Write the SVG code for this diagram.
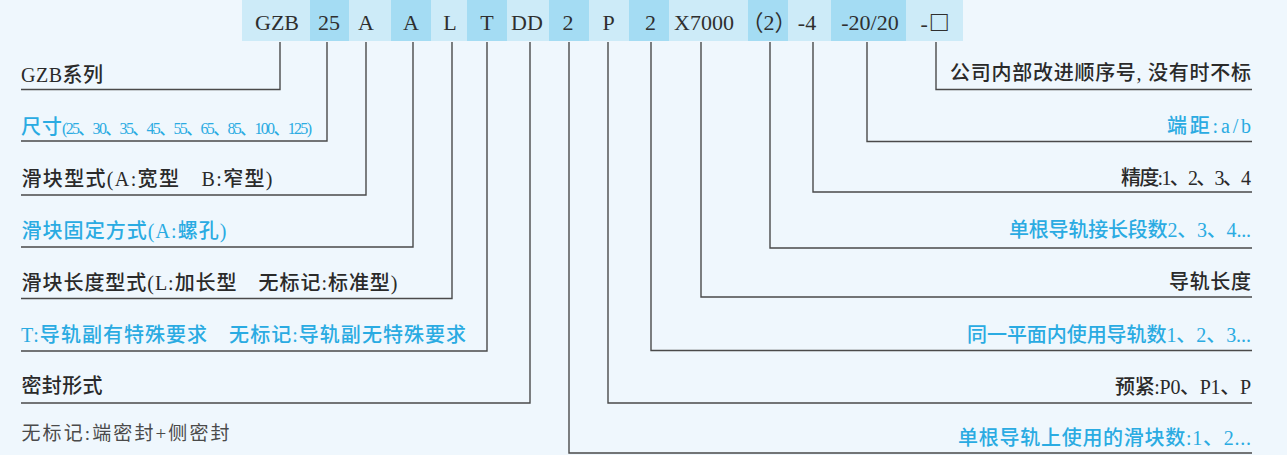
<svg xmlns="http://www.w3.org/2000/svg" width="1287" height="455" viewBox="0 0 1287 455">
<style>
.bg{fill:#eff7fd}
.lc{fill:#cdebf8}
.dc{fill:#a4dcf3}
.code{font-family:"Liberation Serif","Noto Sans CJK SC",serif;font-size:22px;fill:#2f2f2f;text-anchor:middle}
.lb{font-family:"Liberation Serif","Noto Sans CJK SC",serif;font-size:20px;font-weight:500;fill:#2a2a2a}
.bl{font-family:"Liberation Serif","Noto Sans CJK SC",serif;font-size:20px;font-weight:500;fill:#2aabe2}
.sm{font-size:16px}
.note{font-family:"Liberation Serif","Noto Sans CJK SC",serif;font-size:19px;fill:#4a4a4a}
.cn{fill:none;stroke:#4a4a4a;stroke-width:1.4}
</style>
<rect class="bg" x="0" y="0" width="1287" height="455"/>
<g id="code-bar">
<g id="c-gzb"><rect class="lc" x="242" y="0" width="68" height="41"/><text class="code" x="277" y="30">GZB</text></g>
<g id="c-25"><rect class="dc" x="310" y="0" width="39" height="41"/><text class="code" x="329" y="30">25</text></g>
<g id="c-a1"><rect class="lc" x="349" y="0" width="42" height="41"/><text class="code" x="366" y="30">A</text></g>
<g id="c-a2"><rect class="dc" x="391" y="0" width="40" height="41"/><text class="code" x="411" y="30">A</text></g>
<g id="c-l"><rect class="lc" x="431" y="0" width="36" height="41"/><text class="code" x="450" y="30">L</text></g>
<g id="c-t"><rect class="dc" x="467" y="0" width="40" height="41"/><text class="code" x="487" y="30">T</text></g>
<g id="c-dd"><rect class="lc" x="507" y="0" width="42" height="41"/><text class="code" x="527" y="30">DD</text></g>
<g id="c-2a"><rect class="dc" x="549" y="0" width="40" height="41"/><text class="code" x="568" y="30">2</text></g>
<g id="c-p"><rect class="lc" x="589" y="0" width="40" height="41"/><text class="code" x="608.5" y="30">P</text></g>
<g id="c-2b"><rect class="dc" x="629" y="0" width="40" height="41"/><text class="code" x="650.5" y="30">2</text></g>
<g id="c-x7000"><rect class="lc" x="669" y="0" width="79" height="41"/><text class="code" x="704" y="30">X7000</text></g>
<g id="c-2c"><rect class="dc" x="748" y="0" width="40" height="41"/><text class="code" x="769" y="30">（2）</text></g>
<g id="c-4"><rect class="lc" x="788" y="0" width="43" height="41"/><text class="code" x="807" y="30">-4</text></g>
<g id="c-2020"><rect class="dc" x="831" y="0" width="75" height="41"/><text class="code" x="870" y="30">-20/20</text></g>
<g id="c-box"><rect class="lc" x="906" y="0" width="57" height="41"/><text class="code" x="934" y="31">-<tspan dx="3" font-size="28">□</tspan></text></g>
</g>
<g id="connectors">
<path class="cn" d="M21,89.5H280V42"/>
<path class="cn" d="M21,141H327V42"/>
<path class="cn" d="M21,195H366V42"/>
<path class="cn" d="M21,247H413V42"/>
<path class="cn" d="M21,298.5H452V42"/>
<path class="cn" d="M21,351H487V42"/>
<path class="cn" d="M21,403H530V42"/>
<path class="cn" d="M1252,89.5H936V42"/>
<path class="cn" d="M1252,141.5H867V42"/>
<path class="cn" d="M1252,192H813V42"/>
<path class="cn" d="M1252,248H770V42"/>
<path class="cn" d="M1252,297H701V42"/>
<path class="cn" d="M1252,350.5H651V42"/>
<path class="cn" d="M1252,403H608V42"/>
<path class="cn" d="M1252,453H569V42"/>
</g>
<g id="l-series"><text class="lb" x="21" y="82" textLength="82">GZB系列</text></g>
<g id="l-size"><text class="bl" x="21" y="133.5" textLength="41">尺寸</text><text class="bl sm" x="62" y="133.5" textLength="250">(25、30、35、45、55、65、85、100、125)</text></g>
<g id="l-block-type"><text class="lb" x="21.5" y="185.5" textLength="251">滑块型式(A:宽型　B:窄型)</text></g>
<g id="l-block-fix"><text class="bl" x="21.5" y="237.5" textLength="205">滑块固定方式(A:螺孔)</text></g>
<g id="l-block-len"><text class="lb" x="21.5" y="289.5" textLength="376">滑块长度型式(L:加长型　无标记:标准型)</text></g>
<g id="l-special"><text class="bl" x="21" y="342" textLength="445">T:导轨副有特殊要求　无标记:导轨副无特殊要求</text></g>
<g id="l-seal"><text class="lb" x="21.5" y="393" textLength="81">密封形式</text><text class="note" x="21.5" y="440" textLength="208">无标记:端密封+侧密封</text></g>
<g id="r-internal"><text class="lb" x="950" y="80" textLength="301">公司内部改进顺序号, 没有时不标</text></g>
<g id="r-end"><text class="bl" x="1167" y="132.5" textLength="84">端距:a/b</text></g>
<g id="r-precision"><text class="lb" x="1121" y="185" textLength="130">精度:1、2、3、4</text></g>
<g id="r-joint"><text class="bl" x="1009" y="237" textLength="242">单根导轨接长段数2、3、4...</text></g>
<g id="r-length"><text class="lb" x="1169" y="289" textLength="82">导轨长度</text></g>
<g id="r-rails"><text class="bl" x="967" y="341.5" textLength="284">同一平面内使用导轨数1、2、3...</text></g>
<g id="r-preload"><text class="lb" x="1115" y="394" textLength="136">预紧:P0、P1、P</text></g>
<g id="r-blocks"><text class="bl" x="958" y="445" textLength="293">单根导轨上使用的滑块数:1、2...</text></g>
</svg>
